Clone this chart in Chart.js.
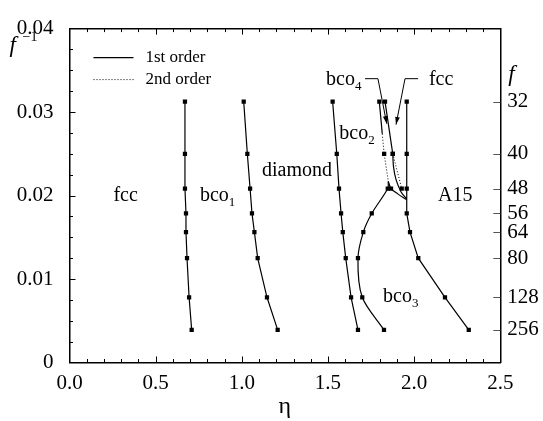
<!DOCTYPE html>
<html>
<head>
<meta charset="utf-8">
<script src="https://cdn.jsdelivr.net/npm/chart.js@4.4.0/dist/chart.umd.min.js"></script>
<style>
  html, body { margin: 0; padding: 0; background: #fff; }
</style>
</head>
<body>
<canvas id="phase" width="543" height="421"></canvas>
<script>
// rows of the diagram: f particles per cell, plotted at 1/f
const fValues = [32, 40, 48, 56, 64, 80, 128, 256];
const fInv = fValues.map(f => 1 / f);

// boundaries computed on every row, eta for f = 32 ... 256
const fccBco1 = [0.670, 0.670, 0.670, 0.676, 0.676, 0.682, 0.694, 0.709];
const bco1Diamond = [1.011, 1.032, 1.048, 1.059, 1.073, 1.092, 1.146, 1.208];
const diamondBco2 = [1.527, 1.551, 1.564, 1.576, 1.586, 1.603, 1.634, 1.674];
const bco3A15 = [1.957, 1.957, 1.957, 1.957, 1.976, 2.024, 2.179, 2.317];

// the pocket between bco2 and A15: [eta, 1/f, computed point?]
const bco2Bco3 = [[1.850, 0.0217, 0], [1.847, 1 / 48, 1], [1.754, 1 / 56, 1], [1.705, 1 / 64, 1],
                  [1.674, 1 / 80, 1], [1.699, 1 / 128, 1], [1.825, 1 / 256, 1]];
const bco2Bco4First = [[1.798, 1 / 32, 1], [1.815, 0.0274, 0]];
const bco2Bco4Second = [[1.815, 0.0274, 0], [1.826, 1 / 40, 1], [1.850, 0.0217, 0]];
const bco4FccFirst = [[1.831, 1 / 32, 1], [1.876, 1 / 40, 1]];
const bco4FccSecond = [[1.876, 1 / 40, 1], [1.928, 1 / 48, 1]];
const fccBco3Upper = [[1.876, 1 / 40, 0], [1.880, 0.0235, 0], [1.895, 0.0219, 0], [1.925, 0.0204, 0], [1.957, 0.0196, 0]];
const fccBco3Arc = [[1.850, 0.0217, 0], [1.866, 1 / 48, 1], [1.905, 0.0202, 0], [1.957, 0.0195, 0]];

const serif = "'Liberation Serif', 'Times New Roman', serif";

function rowSeries(etas) {
  return etas.map((x, i) => ({ x: x, y: fInv[i], mark: 1 }));
}
function pairSeries(pairs) {
  return pairs.map(p => ({ x: p[0], y: p[1], mark: p[2] }));
}
function boundary(points, dotted, tension) {
  return {
    data: points,
    xAxisID: 'x',
    yAxisID: 'y',
    showLine: true,
    borderColor: '#000',
    borderWidth: dotted ? 1 : 1.2,
    borderDash: dotted ? [1, 2] : [],
    tension: tension || 0,
    pointStyle: 'rect',
    pointRadius: ctx => (ctx.raw && ctx.raw.mark ? 3 : 0),
    pointBackgroundColor: '#000',
    pointBorderWidth: 0,
    pointHoverRadius: 0
  };
}

// phase names placed in data coordinates
const regionLabels = [
  { text: 'fcc', sub: '', eta: 0.255, inv: 0.0193 },
  { text: 'bco', sub: '1', eta: 0.757, inv: 0.0193 },
  { text: 'diamond', sub: '', eta: 1.117, inv: 0.0223 },
  { text: 'bco', sub: '2', eta: 1.566, inv: 0.0268 },
  { text: 'bco', sub: '4', eta: 1.489, inv: 0.0332 },
  { text: 'fcc', sub: '', eta: 2.086, inv: 0.0332 },
  { text: 'A15', sub: '', eta: 2.139, inv: 0.0193 },
  { text: 'bco', sub: '3', eta: 1.820, inv: 0.0073 }
];
// arrows from the bco4 and fcc names into their narrow strips
const pointerArrows = [
  [[1.715, 0.0340], [1.790, 0.0340], [1.841, 0.0286]],
  [[2.023, 0.0340], [1.947, 0.0340], [1.895, 0.0285]]
];

function seg(ctx, x1, y1, x2, y2) {
  ctx.beginPath();
  ctx.moveTo(x1, y1);
  ctx.lineTo(x2, y2);
  ctx.stroke();
}

// inward tick marks on all four sides, names, arrows, legend, axis titles
const decorations = {
  id: 'decorations',
  afterDraw(chart) {
    const { ctx, chartArea: a, scales } = chart;
    const sx = scales.x, sy = scales.y;
    ctx.save();
    ctx.strokeStyle = '#000';
    ctx.lineWidth = 1;
    for (let i = 1; i < 25; i++) {
      const px = Math.round(sx.getPixelForValue(i / 10)) + 0.5;
      const len = i % 5 === 0 ? 6 : 3.5;
      seg(ctx, px, a.bottom, px, a.bottom - len);
      seg(ctx, px, a.top, px, a.top + len);
    }
    for (let i = 1; i < 16; i++) {
      const py = Math.round(sy.getPixelForValue(i * 0.0025)) + 0.5;
      seg(ctx, a.left, py, a.left + (i % 4 === 0 ? 6 : 3.5), py);
    }
    ctx.strokeStyle = '#555';
    fInv.forEach(v => {
      const py = Math.round(sy.getPixelForValue(v)) + 0.5;
      seg(ctx, a.right, py, a.right - 7, py);
    });

    // arrows
    ctx.strokeStyle = '#000';
    ctx.fillStyle = '#000';
    pointerArrows.forEach(path => {
      const pts = path.map(p => [sx.getPixelForValue(p[0]), sy.getPixelForValue(p[1])]);
      ctx.beginPath();
      ctx.moveTo(pts[0][0], pts[0][1]);
      for (let i = 1; i < pts.length; i++) ctx.lineTo(pts[i][0], pts[i][1]);
      ctx.stroke();
      const [p1, p2] = pts.slice(-2);
      const ang = Math.atan2(p2[1] - p1[1], p2[0] - p1[0]);
      ctx.beginPath();
      ctx.moveTo(p2[0], p2[1]);
      ctx.lineTo(p2[0] - 8 * Math.cos(ang - 0.3), p2[1] - 8 * Math.sin(ang - 0.3));
      ctx.lineTo(p2[0] - 8 * Math.cos(ang + 0.3), p2[1] - 8 * Math.sin(ang + 0.3));
      ctx.closePath();
      ctx.fill();
    });

    // phase names
    ctx.textBaseline = 'alphabetic';
    ctx.textAlign = 'left';
    regionLabels.forEach(l => {
      const x = sx.getPixelForValue(l.eta), y = sy.getPixelForValue(l.inv);
      ctx.font = '20px ' + serif;
      ctx.fillText(l.text, x, y);
      if (l.sub) {
        const w = ctx.measureText(l.text).width;
        ctx.font = '13px ' + serif;
        ctx.fillText(l.sub, x + w, y + 5);
      }
    });

    // legend
    ctx.font = '17px ' + serif;
    ctx.textBaseline = 'middle';
    ctx.lineWidth = 1.2;
    seg(ctx, a.left + 24, a.top + 29, a.left + 64, a.top + 29);
    ctx.fillText('1st order', a.left + 76, a.top + 29);
    ctx.lineWidth = 1;
    ctx.setLineDash([1, 2]);
    seg(ctx, a.left + 24, a.top + 51, a.left + 64, a.top + 51);
    ctx.setLineDash([]);
    ctx.fillText('2nd order', a.left + 76, a.top + 51);

    // axis titles
    ctx.textBaseline = 'alphabetic';
    ctx.font = 'italic 23px ' + serif;
    ctx.fillText('f', a.left - 60, a.top + 23);
    ctx.font = '14px ' + serif;
    ctx.fillText('\u22121', a.left - 47, a.top + 12);
    ctx.font = 'italic 23px ' + serif;
    ctx.fillText('f', a.right + 8, a.top + 52);
    ctx.font = '24px ' + serif;
    ctx.textAlign = 'center';
    ctx.fillText('\u03b7', (a.left + a.right) / 2, a.bottom + 50);
    ctx.restore();
  }
};

const tickFont = { family: serif, size: 21 };
const plainGrid = { display: false, drawTicks: false };

new Chart(document.getElementById('phase'), {
  type: 'scatter',
  data: {
    datasets: [
      boundary(rowSeries(fccBco1), false),
      boundary(rowSeries(bco1Diamond), false),
      boundary(rowSeries(diamondBco2), false),
      boundary(rowSeries(bco3A15), false),
      boundary(pairSeries(bco2Bco3), false, 0.3),
      boundary(pairSeries(bco2Bco4First), false),
      boundary(pairSeries(bco2Bco4Second), true),
      boundary(pairSeries(bco4FccFirst), false),
      boundary(pairSeries(bco4FccSecond), true),
      boundary(pairSeries(fccBco3Upper), false, 0.3),
      boundary(pairSeries(fccBco3Arc), false, 0.3)
    ]
  },
  options: {
    responsive: false,
    animation: false,
    layout: { padding: 0 },
    plugins: { legend: { display: false }, tooltip: { enabled: false } },
    scales: {
      x: {
        type: 'linear', position: 'bottom', min: 0, max: 2.5,
        afterFit: s => { s.height = 58.5; },
        grid: plainGrid,
        border: { display: true, color: '#000', width: 1.5 },
        ticks: { stepSize: 0.5, padding: 8, color: '#000', font: tickFont, callback: v => v.toFixed(1) }
      },
      y: {
        type: 'linear', position: 'left', min: 0, max: 0.04,
        afterFit: s => { s.width = 69.5; },
        grid: plainGrid,
        border: { display: true, color: '#000', width: 1.5 },
        ticks: { stepSize: 0.01, padding: 16, color: '#000', font: tickFont,
                 callback: v => (v === 0 ? '0' : v.toFixed(2)) }
      },
      xTop: {
        type: 'linear', position: 'top', min: 0, max: 2.5,
        afterFit: s => { s.height = 23.3; },
        grid: plainGrid,
        border: { display: true, color: '#000', width: 1.5 },
        ticks: { display: false }
      },
      yRight: {
        type: 'linear', position: 'right', min: 0, max: 0.04,
        afterFit: s => { s.width = 42.7; },
        afterBuildTicks: s => { s.ticks = fInv.map(v => ({ value: v })); },
        grid: plainGrid,
        border: { display: true, color: '#000', width: 1.5 },
        ticks: { autoSkip: false, padding: 7, color: '#000', font: tickFont,
                 callback: v => String(Math.round(1 / v)) }
      }
    }
  },
  plugins: [decorations]
});
</script>
</body>
</html>
